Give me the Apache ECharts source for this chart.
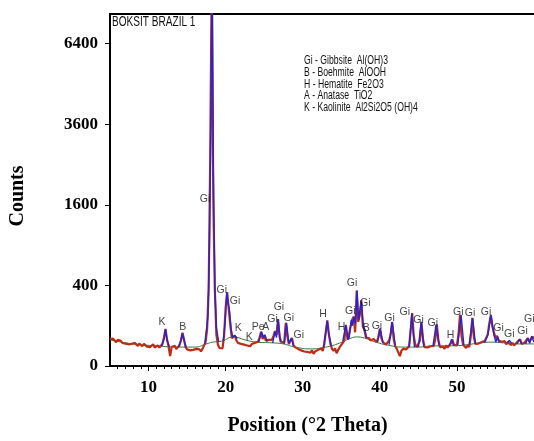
<!DOCTYPE html>
<html>
<head>
<meta charset="utf-8">
<script src="https://cdn.jsdelivr.net/npm/echarts@6/dist/echarts.min.js"></script>
<style>html,body{margin:0;padding:0;background:#fff}#c{width:534px;height:441px}</style>
</head>
<body>
<div id="c"></div>
<script>
// ---- data ----
const sampleName = 'BOKSIT BRAZIL 1';
const phaseNotes = [
  'Gi - Gibbsite  Al(OH)3',
  'B - Boehmite  AlOOH',
  'H - Hematite  Fe2O3',
  'A - Anatase  TiO2',
  'K - Kaolinite  Al2Si2O5 (OH)4'
];
const xTickLabels = [10, 20, 30, 40, 50];
const yTickLabels = [0, 400, 1600, 3600, 6400];
const startAngle = 5.0;
const stepSize = 0.2;
const observedCounts = [
  44, 38, 46, 40, 35,   42, 36, 39, 33, 37,   31, 36, 29, 34, 30,   27, 33, 29, 25, 31,
  28, 24, 30, 26, 23,   27, 22, 25, 29, 21,   24, 26, 21, 25, 30,   50, 85, 42, 24, 6,
  22, 19, 25, 18, 21,   26, 40, 68, 44, 22,   17, 20, 15, 19, 16,   14, 18, 15, 17, 13,
  18, 17, 35, 85, 360,  2700, 9500, 1700, 360, 60,   28, 20, 16, 19, 58,   210, 335, 200, 105, 48,
  50, 56, 40, 33, 37,   30, 34, 28, 31, 26,   29, 24, 30, 27, 33,   30, 36, 50, 72, 45,
  58, 40, 36, 42, 38,   42, 55, 75, 60, 135,   52, 36, 40, 33, 115,   55, 30, 35, 48, 27,
  22, 25, 18, 21, 15,   17, 13, 16, 12, 14,   11, 15, 9, 13, 12,   16, 13, 19, 14, 30,
  75, 128, 60, 30, 18,   14, 19, 10, 16, 22,   25, 33, 40, 104, 45,   60, 95, 130, 150, 70,
  350, 120, 160, 265, 95,   82, 50, 45, 48, 40,   36, 45, 40, 35, 50,   85, 48, 35, 30, 28,
  32, 40, 60, 118, 45,   24, 18, 20, 6, 14,   18, 22, 17, 20, 24,   75, 172, 55, 28, 22,
  20, 40, 118, 45, 22,   18, 21, 19, 24, 20,   25, 45, 105, 40, 22,   19, 23, 18, 26, 21,
  24, 31, 44, 28, 30,   26, 60, 162, 55, 28,   24, 20, 27, 22, 55,   142, 52, 30, 26, 31,
  28, 35, 31, 38, 44,   60, 110, 160, 95, 70,   48, 56, 40, 45, 36,   33, 38, 29, 35, 31,
  27, 33, 26, 30, 35,   38, 44, 30, 27, 34,   30, 48, 36, 40, 53,   46
];
// fitted peak profiles [2theta, counts]; null separates peaks
const fittedProfile = [
  [11.7,24],[12.0,45],[12.2,84],[12.4,42],[12.7,23], null,
  [13.9,22],[14.2,40],[14.4,66],[14.6,40],[14.9,21], null,
  [17.3,30],[17.7,150],[17.9,900],[18.1,4200],[18.25,9500],[18.4,2400],[18.6,380],[18.8,90],[19.1,36], null,
  [19.7,38],[19.95,130],[20.15,330],[20.3,250],[20.5,190],[20.7,90],[20.9,52],[21.2,58],[21.5,46], null,
  [24.3,35],[24.65,72],[24.9,50],[25.1,60],[25.4,36], null,
  [26.1,33],[26.4,72],[26.6,50],[26.8,135],[27.1,35], null,
  [27.6,31],[27.9,115],[28.2,32],[28.55,48],[28.8,25], null,
  [32.7,22],[33.0,70],[33.16,126],[33.35,70],[33.7,24], null,
  [35.2,38],[35.58,103],[35.9,42], null,
  [36.0,45],[36.3,130],[36.45,100],[36.65,150],[36.85,110],[37.04,350],[37.25,130],[37.6,262],[37.85,95],[38.05,82],[38.3,48], null,
  [39.7,36],[40.07,87],[40.4,33], null,
  [41.2,28],[41.6,120],[42.0,26], null,
  [43.8,22],[44.15,170],[44.5,22], null,
  [45.0,22],[45.37,120],[45.7,23], null,
  [46.9,25],[47.3,105],[47.7,25], null,
  [49.0,25],[49.33,44],[49.6,25], null,
  [50.1,26],[50.54,160],[50.9,27], null,
  [51.6,28],[52.04,142],[52.4,30], null,
  [53.6,33],[54.0,60],[54.42,160],[54.8,60],[55.05,35],[55.28,53],[55.5,34], null,
  [56.5,33],[56.8,40],[57.1,32], null,
  [57.8,30],[58.1,44],[58.4,30], null,
  [58.9,30],[59.2,48],[59.45,32],[59.7,55],[60.0,35]
];
const backgroundCurve = [
  [5,42],[8,30],[11,25],[14,22],[16,22],[17.5,30],[18.3,35],[19.5,38],[21,52],[22.5,42],
  [24,35],[26,33],[27.5,30],[29,22],[31,18],[33,22],[34.5,30],[36,45],[37,52],[38,48],
  [39.5,35],[41,27],[43,22],[45,22],[47,25],[49,25],[51,27],[53,33],[54.5,35],[56,33],[58,30],[60,30]
];
// peak labels: [text, 2theta, counts] (label centre)
const peakLabels = [
  ['K',11.73,121],['B',14.45,95],['Gi',17.33,1709],['Gi',19.5,355],['Gi',21.22,260],
  ['K',21.64,87],['K',23.07,51],['Pe',24.23,95],['A',25.19,92],['Gi',26.09,134],
  ['Gi',26.91,216],['Gi',28.2,140],['Gi',29.5,59],['H',32.64,164],['H',35.02,95],
  ['Gi',36.18,188],['Gi',36.39,421],['Gi',38.12,242],['B',38.25,87],['Gi',39.62,98],
  ['Gi',41.27,140],['Gi',43.25,181],['Gi',45.02,130],['Gi',46.87,112],['H',49.16,59],
  ['Gi',50.19,181],['Gi',51.71,171],['Gi',53.78,181],['Gi',55.41,87],['Gi',56.79,63],
  ['Gi',58.51,77],['Gi',59.38,134]
];

// ---- chart ----
const sq = v => Math.sqrt(v);
const observedData = observedCounts.map((c, i) => [+(startAngle + i * stepSize).toFixed(2), sq(c)]);
const fittedData = fittedProfile.map(p => p ? [p[0], sq(p[1])] : ['-', '-']);
const bgData = backgroundCurve.map(p => [p[0], sq(p[1])]);
const labelData = peakLabels.map(p => ({ value: [p[1], sq(p[2])], name: p[0] }));
const minorTicks = [];
for (let t = 6; t <= 59; t++) if (t % 10 !== 0) minorTicks.push(t);

const chart = echarts.init(document.getElementById('c'), null, { renderer: 'canvas' });
const serif = '"Liberation Serif", "Times New Roman", serif';
const sans = '"Liberation Sans", Arial, sans-serif';
chart.setOption({
  animation: false,
  backgroundColor: '#fff',
  grid: { left: 109.5, right: -1.2, top: 14, bottom: 74, show: false },
  xAxis: [{
    type: 'value', min: 5, max: 60,
    axisLine: { show: true, onZero: false, lineStyle: { color: '#000', width: 2 } },
    axisTick: { show: true, length: 5, customValues: xTickLabels, lineStyle: { color: '#000', width: 1 } },
    axisLabel: { customValues: xTickLabels, margin: 13, color: '#000', fontFamily: serif, fontWeight: 'bold', fontSize: 17 },
    splitLine: { show: false },
    name: 'Position (°2 Theta)', nameLocation: 'middle', nameGap: 50,
    nameTextStyle: { color: '#000', fontFamily: serif, fontWeight: 'bold', fontSize: 20, padding: [0, 29, 0, 0] }
  }, {
    type: 'value', min: 5, max: 60, position: 'bottom', gridIndex: 0,
    axisLine: { show: false },
    axisTick: { show: true, length: 3, customValues: minorTicks, lineStyle: { color: '#000', width: 1 } },
    axisLabel: { show: false }, splitLine: { show: false }
  }, {
    type: 'value', min: 5, max: 60, position: 'top', gridIndex: 0,
    axisLine: { show: true, onZero: false, lineStyle: { color: '#000', width: 2 } },
    axisTick: { show: false }, axisLabel: { show: false }, splitLine: { show: false }
  }],
  yAxis: {
    type: 'value', min: 0, max: 87.32,
    axisLine: { show: true, lineStyle: { color: '#000', width: 2 } },
    axisTick: { show: true, length: 5, customValues: yTickLabels.map(sq), lineStyle: { color: '#000', width: 1 } },
    axisLabel: { customValues: yTickLabels.map(sq), margin: 12, color: '#000', fontFamily: serif, fontWeight: 'bold', fontSize: 17,
      formatter: v => String(Math.round(v * v)) },
    splitLine: { show: false },
    name: 'Counts', nameLocation: 'middle', nameGap: 82,
    nameTextStyle: { color: '#000', fontFamily: serif, fontWeight: 'bold', fontSize: 20, padding: [0, 12, 0, 0] }
  },
  series: [
    { type: 'line', data: bgData, smooth: true, showSymbol: false, z: 2,
      lineStyle: { color: '#2f7a3a', width: 1 } },
    { type: 'line', data: observedData, showSymbol: false, z: 3,
      lineStyle: { color: '#bf2c16', width: 2.2 } },
    { type: 'line', data: fittedData, showSymbol: false, connectNulls: false, z: 4,
      lineStyle: { color: '#2424d4', width: 1.4 } },
    { type: 'scatter', data: labelData, symbolSize: 0, z: 5, silent: true,
      label: { show: true, position: 'inside', formatter: p => p.name, color: '#111', fontFamily: sans, fontSize: 10.5 } }
  ],
  graphic: [
    { type: 'text', x: 112, y: 15, scaleX: 0.72, style: { text: sampleName, fill: '#111', font: '14px ' + sans } },
    { type: 'group', x: 304, y: 55, children: phaseNotes.map((t, i) => ({
      type: 'text', x: 0, y: i * 11.6, scaleX: 0.72, style: { text: t, fill: '#111', font: '12px ' + sans } })) }
  ]
});
</script>
</body>
</html>
